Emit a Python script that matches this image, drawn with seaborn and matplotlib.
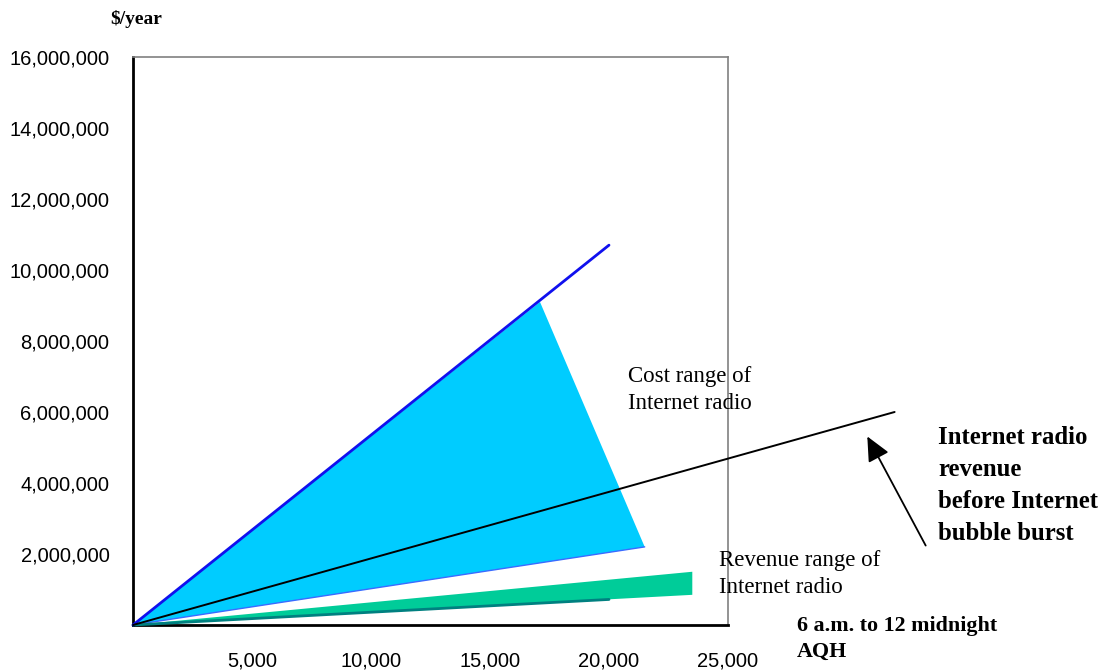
import matplotlib
matplotlib.use("Agg")
import matplotlib.pyplot as plt
import seaborn as sns
import pandas as pd
from matplotlib.ticker import FuncFormatter

# Average quarter-hour audience (AQH) vs. annual dollars
cost_high_aqh = [0, 20000]
cost_high_usd = [0, 10_700_000]

cost_range_aqh = [0, 17100, 21500]
cost_range_usd = [0, 9_100_000, 2_200_000]

bubble_rev_aqh = [0, 32000]
bubble_rev_usd = [0, 6_000_000]

rev_range_aqh = [0, 23500, 23500]
rev_range_usd = [0, 1_500_000, 850_000]

rev_low_aqh = [0, 20000]
rev_low_usd = [0, 720_000]

x_ticks = [5000, 10000, 15000, 20000, 25000]
y_ticks = [2_000_000, 4_000_000, 6_000_000, 8_000_000, 10_000_000,
           12_000_000, 14_000_000, 16_000_000]

sns.set_theme(style="white")
plt.rcParams["font.family"] = ["Liberation Sans", "DejaVu Sans"]
plt.rcParams["text.color"] = "black"

fig = plt.figure(figsize=(11.04, 6.71), dpi=100)
ax = fig.add_axes([133 / 1104, 1 - 625 / 671, 595 / 1104, 568 / 671])

# Cost range (light blue wedge) and its upper bound line
ax.fill(cost_range_aqh, cost_range_usd, color="#00CCFF", lw=0, zorder=2)
ax.plot([cost_range_aqh[0], cost_range_aqh[2]], [cost_range_usd[0], cost_range_usd[2]],
        color="#3A6BFF", lw=1.0, zorder=2.5)
sns.lineplot(data=pd.DataFrame({"aqh": cost_high_aqh, "usd": cost_high_usd}),
             x="aqh", y="usd", color="#1010EE", lw=2.0, ax=ax, zorder=3)

# Revenue range (green wedge) with its lower bound
ax.fill(rev_range_aqh, rev_range_usd, color="#00CC99", lw=0, zorder=2)
sns.lineplot(data=pd.DataFrame({"aqh": rev_low_aqh, "usd": rev_low_usd}),
             x="aqh", y="usd", color="#008080", lw=2.0, ax=ax, zorder=2.6)

# Revenue before the bubble burst
sns.lineplot(data=pd.DataFrame({"aqh": bubble_rev_aqh, "usd": bubble_rev_usd}),
             x="aqh", y="usd", color="black", lw=1.4, ax=ax, zorder=4)
for l in ax.lines:
    l.set_clip_on(False)

ax.set_xlim(0, 25000)
ax.set_ylim(0, 16_000_000)
ax.set_xticks(x_ticks)
ax.set_yticks(y_ticks)
ax.xaxis.set_major_formatter(FuncFormatter(lambda v, p: f"{int(v):,}"))
ax.yaxis.set_major_formatter(FuncFormatter(lambda v, p: f"{int(v):,}"))
ax.set_xlabel("")
ax.set_ylabel("")
ax.grid(False)
ax.set_facecolor("white")

for side in ("left", "bottom"):
    ax.spines[side].set_color("black")
    ax.spines[side].set_linewidth(2.0)
for side in ("top", "right"):
    ax.spines[side].set_color("#808080")
    ax.spines[side].set_linewidth(1.2)

ax.tick_params(axis="both", direction="in", length=5, width=1.6, color="black",
               labelsize=14.5, labelcolor="black")
ax.tick_params(axis="y", pad=17)
ax.tick_params(axis="x", pad=19)

serif = ["Liberation Serif", "DejaVu Serif"]
fig.text(136 / 1104, 1 - 19 / 671, "$/year", ha="center", va="center",
         fontsize=14, fontweight="bold", family=serif)

fig.text(628 / 1104, 1 - 390 / 671, "Cost range of\nInternet radio", ha="left",
         va="center", fontsize=16.5, family=serif, linespacing=1.4)
fig.text(719 / 1104, 1 - 574 / 671, "Revenue range of\nInternet radio", ha="left",
         va="center", fontsize=16.5, family=serif, linespacing=1.4)
fig.text(797 / 1104, 1 - 639 / 671, "6 a.m. to 12 midnight\nAQH", ha="left",
         va="center", fontsize=15.8, fontweight="bold", family=serif, linespacing=1.4)
fig.text(938 / 1104, 1 - 485 / 671,
         "Internet radio\nrevenue\nbefore Internet\nbubble burst", ha="left",
         va="center", fontsize=17.8, fontweight="bold", family=serif, linespacing=1.5)

fig.add_artist(matplotlib.patches.FancyArrowPatch(
    (927 / 1104, 1 - 548 / 671), (866 / 1104, 1 - 434 / 671),
    transform=fig.transFigure, arrowstyle="-|>,head_length=15,head_width=7",
    mutation_scale=1, color="black", lw=1.3))

fig.savefig("out.png", dpi=100, facecolor="white")
